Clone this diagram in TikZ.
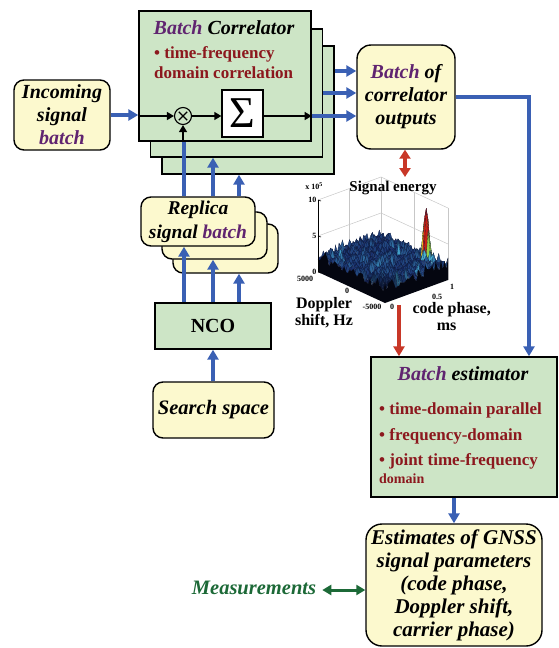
\documentclass[tikz,border=0pt]{standalone}
\usepackage{fontspec}
\setmainfont{Liberation Serif}
\usetikzlibrary{arrows.meta,calc}

\definecolor{boxgreen}{RGB}{205,229,198}
\definecolor{boxyellow}{RGB}{252,249,206}
\definecolor{flowblue}{RGB}{58,96,180}
\definecolor{flowred}{RGB}{200,55,40}
\definecolor{batchpurple}{RGB}{96,36,112}
\definecolor{notered}{RGB}{140,24,30}
\definecolor{measgreen}{RGB}{28,105,55}
\definecolor{sfLow}{RGB}{24,42,105}
\definecolor{sfHigh}{RGB}{70,175,215}
\definecolor{sfGreen}{RGB}{110,200,80}
\definecolor{sfYel}{RGB}{240,220,40}
\definecolor{sfRed}{RGB}{200,30,20}

\newcommand{\bt}[1]{\textcolor{batchpurple}{#1}}

\tikzset{
  greenbox/.style={draw=black, line width=1.4pt, fill=boxgreen, inner sep=0pt},
  yellowbox/.style={draw=black, line width=1.4pt, fill=boxyellow, rounded corners=10pt,
    inner sep=0pt, align=center, font=\bfseries\itshape\fontsize{20}{23}\selectfont},
  bluearrow/.style={draw=flowblue, line width=3.6pt, -{Triangle[length=10pt,width=11pt]}},
  blueline/.style={draw=flowblue, line width=3.6pt},
  redarrow/.style={draw=flowred, line width=3.6pt, -{Triangle[length=10pt,width=11pt]}},
  redboth/.style={draw=flowred, line width=3.6pt, {Triangle[length=9pt,width=11pt]}-{Triangle[length=9pt,width=11pt]}},
  greenboth/.style={draw=measgreen, line width=3pt, {Triangle[length=9pt,width=10pt]}-{Triangle[length=9pt,width=10pt]}},
  blackarrow/.style={draw=black, line width=1.3pt, -{Triangle[length=7pt,width=8pt]}},
  notetext/.style={text=notered, font=\bfseries\fontsize{17}{20}\selectfont, align=left, inner sep=0pt},
  ticklabel/.style={font=\bfseries\fontsize{8}{8}\selectfont, inner sep=0.5pt},
  axislabel/.style={font=\bfseries\fontsize{16}{17}\selectfont, align=center, inner sep=0pt},
  titletext/.style={font=\bfseries\itshape\fontsize{20}{22}\selectfont},
}

\begin{document}
\begin{tikzpicture}[x=1pt,y=-1pt]
\useasboundingbox (0,0) rectangle (558,648);

% ---------- batch correlator (three stacked layers) ----------
\node[greenbox, minimum width=172pt, minimum height=128pt] (corrC) at (248,110) {};
\node[greenbox, minimum width=172pt, minimum height=128pt] (corrB) at (236.5,93) {};
\node[greenbox, minimum width=172pt, minimum height=130pt] (corrA) at (225,76) {};
\node[titletext] (corrT) at (224,28) {\bt{Batch} Correlator};
\node[notetext, anchor=west] (corrN) at (154,63) {\textbullet\ time-frequency\\domain correlation};

\node[draw=black, line width=1.1pt, circle, minimum size=17pt, inner sep=0pt] (mult) at (183,116) {};
\draw[black, line width=1.1pt] ($(mult.center)+(-4.2,-4.2)$) -- ($(mult.center)+(4.2,4.2)$)
                                ($(mult.center)+(-4.2,4.2)$) -- ($(mult.center)+(4.2,-4.2)$);
\node[draw=black, line width=1.3pt, fill=white, minimum width=41pt, minimum height=47pt, inner sep=0pt,
      font=\fontsize{44}{44}\selectfont] (sigma) at (242.5,113.5) {Σ};

% ---------- incoming signal and correlator outputs ----------
\node[yellowbox, minimum width=96pt, minimum height=70pt] (inc) at (62,115) {Incoming\\signal\\\bt{batch}};
\node[yellowbox, minimum width=98pt, minimum height=104pt, rounded corners=14pt] (outs) at (406,97)
      {\bt{Batch} of\\correlator\\outputs};

% ---------- replica signal batch (three stacked layers) ----------
\node[yellowbox, minimum width=105pt, minimum height=49pt] (repC) at (225.5,248.5) {};
\node[yellowbox, minimum width=105pt, minimum height=47pt] (repB) at (214.5,235.5) {};
\node[yellowbox, minimum width=114pt, minimum height=49pt, font=\bfseries\itshape\fontsize{19.5}{24}\selectfont] (repA) at (198,221.5)
      {Replica\\signal \bt{batch}};

% ---------- NCO and search space ----------
\node[greenbox, minimum width=116pt, minimum height=46pt, font=\bfseries\fontsize{20}{22}\selectfont] (nco) at (213,326) {NCO};
\node[yellowbox, minimum width=121pt, minimum height=56pt, font=\bfseries\itshape\fontsize{20.5}{22}\selectfont] (search) at (213.5,410) {Search space};

% ---------- batch estimator ----------
\node[greenbox, minimum width=186pt, minimum height=140pt] (est) at (464,427) {};
\node[titletext] (estT) at (463,374) {\bt{Batch} estimator};
\node[notetext, anchor=west] (estN1) at (379,410) {\textbullet\ time-domain parallel};
\node[notetext, anchor=west] (estN2) at (379,436) {\textbullet\ frequency-domain};
\node[notetext, anchor=west] (estN3) at (379,461) {\textbullet\ joint time-frequency};
\node[notetext, anchor=west, font=\bfseries\fontsize{14}{16}\selectfont] (estN4) at (379,479) {domain};

% ---------- estimates ----------
\node[yellowbox, minimum width=176pt, minimum height=122pt, rounded corners=16pt,
      font=\bfseries\itshape\fontsize{21}{23}\selectfont] (estm) at (454,585)
      {Estimates of GNSS\\signal parameters\\(code phase,\\Doppler shift,\\carrier phase)};
\node[text=measgreen, font=\bfseries\itshape\fontsize{20.5}{22}\selectfont, inner sep=0pt] (meas) at (254,588) {Measurements};

% ---------- surface plot of signal energy ----------
% vertex projection: x = 385 + 63u - 67s,  y = 303 - 23u - 31s - 7.2h
\coordinate (pL) at (318,272);
\coordinate (pB) at (381,249);
\coordinate (pR) at (448,280);
\coordinate (pF) at (385,303);
\begin{scope}[draw=black!22, line width=0.5pt]
  \draw (pL) -- ++(0,-72) (pB) -- ++(0,-72) (pR) -- ++(0,-72);
  \draw ($(pL)+(0,-36)$) -- ($(pB)+(0,-36)$) -- ($(pR)+(0,-36)$);
  \draw ($(pL)+(0,-72)$) -- ($(pB)+(0,-72)$) -- ($(pR)+(0,-72)$);
  \draw ($(pL)!0.5!(pB)$) -- ++(0,-72);
  \draw ($(pB)!0.5!(pR)$) -- ++(0,-72);
  \draw (pL) -- (pB) -- (pR);
\end{scope}

\pgfmathsetseed{11}
\foreach \i in {0,...,36}{
  \foreach \j in {0,...,36}{
    \pgfmathsetmacro\uu{\i/36}
    \pgfmathsetmacro\ss{\j/36}
    \pgfmathsetmacro\dd{(\uu-0.87)^2/0.0010+(\ss-0.2)^2/0.0022}
    \ifdim\dd pt<14pt \pgfmathsetmacro\pk{8.0*exp(-\dd)}\else\def\pk{0}\fi
    \pgfmathsetmacro\hh{1.4+1.3*rnd+1.6*rnd*rnd*rnd+\pk}
    \pgfmathsetmacro\px{385+63*\uu-67*\ss}
    \pgfmathsetmacro\py{303-23*\uu-31*\ss-7.2*\hh}
    \expandafter\xdef\csname sfh\i-\j\endcsname{\hh}
    \expandafter\xdef\csname sfx\i-\j\endcsname{\px}
    \expandafter\xdef\csname sfy\i-\j\endcsname{\py}
  }
}
\foreach \i in {35,34,...,0}{
  \foreach \j in {35,34,...,0}{
    \pgfmathtruncatemacro\ii{\i+1}
    \pgfmathtruncatemacro\jj{\j+1}
    \pgfmathsetmacro\hm{max(\csname sfh\i-\j\endcsname,\csname sfh\ii-\j\endcsname,\csname sfh\ii-\jj\endcsname,\csname sfh\i-\jj\endcsname)}
    \ifdim\hm pt<3.9pt
      \pgfmathtruncatemacro\pc{max(0,min(100,100*((\hm-1.9)/2.1)^2))}
      \colorlet{qc}{sfHigh!\pc!sfLow}
    \else\ifdim\hm pt<6pt
      \pgfmathtruncatemacro\pc{100*(\hm-3.9)/2.1}
      \colorlet{qc}{sfGreen!\pc!sfHigh}
    \else\ifdim\hm pt<7.8pt
      \pgfmathtruncatemacro\pc{100*(\hm-6)/1.8}
      \colorlet{qc}{sfYel!\pc!sfGreen}
    \else
      \pgfmathtruncatemacro\pc{min(100,100*(\hm-7.8)/1.5)}
      \colorlet{qc}{sfRed!\pc!sfYel}
    \fi\fi\fi
    \pgfmathtruncatemacro\dk{max(0,60*(1-2.2*(\i+\j)/36))}
    \filldraw[fill=qc!\the\numexpr100-\dk\relax!black, draw=black!50!sfLow, line width=0.1pt]
      (\csname sfx\i-\j\endcsname,\csname sfy\i-\j\endcsname) --
      (\csname sfx\ii-\j\endcsname,\csname sfy\ii-\j\endcsname) --
      (\csname sfx\ii-\jj\endcsname,\csname sfy\ii-\jj\endcsname) --
      (\csname sfx\i-\jj\endcsname,\csname sfy\i-\jj\endcsname) -- cycle;
  }
}
% dark front skirts of the surface
\fill[black!85!sfLow] (pF) \foreach \i in {0,...,36}{ -- (\csname sfx\i-0\endcsname,\csname sfy\i-0\endcsname)} -- (pR) -- cycle;
\fill[black!85!sfLow] (pF) \foreach \j in {0,...,36}{ -- (\csname sfx0-\j\endcsname,\csname sfy0-\j\endcsname)} -- (pL) -- cycle;

% z axis with ticks
\draw[black, line width=0.6pt] (pL) -- ++(0,-72);
\foreach \k/\lab in {0/0,36/5,72/10}{
  \draw[black, line width=0.6pt] ($(pL)+(0,-\k)$) -- ++(3,1);
  \node[ticklabel, anchor=east] at ($(pL)+(-1,-\k)$) {\lab};
}
\node[ticklabel] (zexp) at (314,186) {x 10\textsuperscript{5}};
\node[ticklabel] at (305,279) {5000};
\node[ticklabel] at (347,291) {0};
\node[ticklabel] at (372,307) {-5000};
\node[ticklabel] at (392,307) {0};
\node[ticklabel] at (437,297) {0.5};
\node[ticklabel] at (452,287) {1};
\node[font=\bfseries\fontsize{15}{17}\selectfont, inner sep=0pt] (senergy) at (393,188) {Signal energy};
\node[axislabel] (dop) at (324,313) {Doppler\\shift, Hz};
\node[axislabel, anchor=north east] (cph) at (491,302) {code phase,\\ms\kern10pt};
\coordinate (plottop) at (405,177);
\coordinate (plotbot) at (399,305);

% ---------- connectors ----------
\draw[bluearrow] (inc.east) -- (corrA.west |- inc.east);
\draw[blackarrow] (corrA.west |- mult) -- (mult.west);
\draw[blackarrow] (mult.east) -- (sigma.west |- mult);
\draw[blackarrow] (sigma.east |- mult) -- (corrA.east |- mult);

\coordinate (row1) at (0,71);
\coordinate (row2) at (0,93);
\draw[bluearrow] (corrC.east |- row1) -- (outs.west |- row1);
\draw[bluearrow] (corrB.east |- row2) -- (outs.west |- row2);
\draw[bluearrow] (corrA.east |- mult) -- (outs.west |- mult);

\coordinate (colA) at (184,0);
\coordinate (colB) at (213,0);
\coordinate (colC) at (239,0);
\draw[blueline] (repA.north -| colA) -- (corrA.south -| colA);
\draw[blackarrow] (corrA.south -| mult) -- (mult.south);
\draw[bluearrow] (repA.north -| colB) -- (corrB.south -| colB);
\draw[bluearrow] (repA.north -| colC) -- (corrC.south -| colC);

\draw[bluearrow] (nco.north -| colA) -- (repA.south -| colA);
\draw[bluearrow] (nco.north -| colB) -- (repB.south -| colB);
\draw[bluearrow] (nco.north -| colC) -- (repC.south -| colC);
\draw[bluearrow] (search.north -| nco.south) -- (nco.south);

\draw[redboth] (outs.south -| plottop) -- (plottop);
\draw[redarrow] (plotbot) -- (est.north -| plotbot);

\draw[bluearrow] (outs.east) -| ($(est.north)+(65,0)$);
\draw[bluearrow] (est.south -| estm.north) -- (estm.north);
\coordinate (measrow) at (0,590);
\draw[greenboth] ($(meas.east |- measrow)+(6,0)$) -- (estm.west |- measrow);
\end{tikzpicture}
\end{document}
